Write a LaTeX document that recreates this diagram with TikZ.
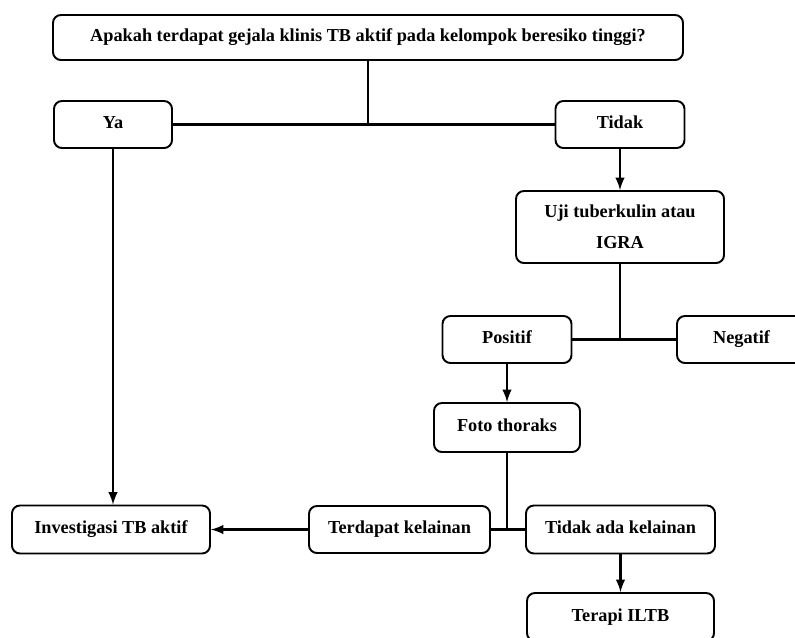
\documentclass[tikz,border=0pt]{standalone}
\usepackage{fontspec}
\setmainfont{Liberation Serif}
\usepackage{tikz}
\tikzset{>=latex}
\usepackage{xcolor}

\begin{document}
\begin{tikzpicture}[x=0.02cm,y=-0.02cm,line width=1.4pt,
    box/.style 2 args={draw,rounded corners=4.5pt,line width=1.1pt,align=center,
      inner sep=0pt,minimum width=#1*0.02cm,minimum height=#2*0.02cm,
      text height=1.6ex,text depth=0.6ex,
      font=\fontsize{10.4}{17.6}\selectfont\bfseries}]
  \useasboundingbox (0,0) rectangle (795,637);
  \node[box={630}{45}] (soal) at (368,37.5) {Apakah terdapat gejala klinis TB aktif pada kelompok beresiko tinggi?};
  \node[box={118}{47}] (ya) at (113,124.5) {Ya};
  \node[box={129}{47}] (tidak) at (620,124.5) {Tidak};
  \node[box={208}{72},text height=,text depth=] (uji) at (620,227) {Uji tuberkulin atau\\IGRA};
  \node[box={129}{47}] (pos) at (507,339.5) {Positif};
  \node[box={129}{47}] (neg) at (741.5,339.5) {Negatif};
  \node[box={146}{49}] (foto) at (507,427.5) {Foto thoraks};
  \node[box={181}{47}] (ada) at (399.5,529.5) {Terdapat kelainan};
  \node[box={189}{48}] (tanpa) at (620.5,529.5) {Tidak ada kelainan};
  \node[box={198}{48}] (inv) at (111,529.5) {Investigasi TB aktif};
  \node[box={187}{48}] (iltb) at (620.5,617) {Terapi ILTB};

  \draw (soal.south) -- (soal.south |- ya.east);
  \draw (ya.east) -- (tidak.west);
  \draw[->] (tidak) -- (uji);
  \draw (uji.south) -- (uji.south |- pos.east);
  \draw (pos.east) -- (neg.west);
  \draw[->] (pos) -- (foto);
  \draw (foto.south) -- (foto.south |- ada.east);
  \draw (ada.east) -- (tanpa.west);
  \draw[->] (ada) -- (inv);
  \draw[->] (ya.south) -- (ya.south |- inv.north);
  \draw[->] (tanpa) -- (iltb);
\end{tikzpicture}
\end{document}
